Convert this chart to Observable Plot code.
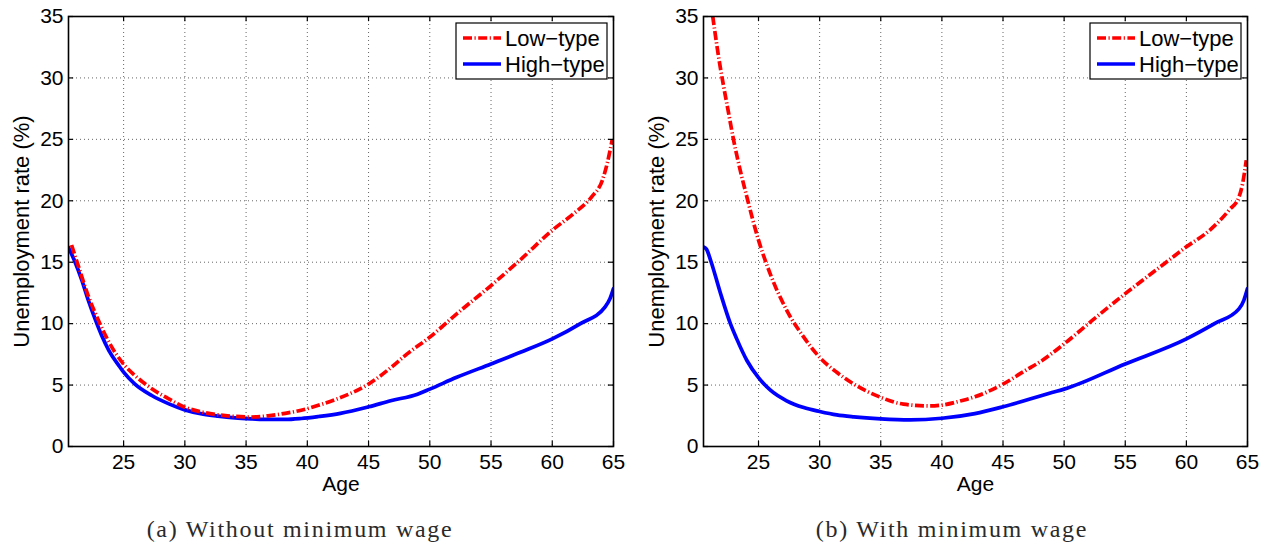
<!DOCTYPE html>
<html>
<head>
<meta charset="utf-8">
<script src="https://cdn.jsdelivr.net/npm/d3@7"></script>
<script src="https://cdn.jsdelivr.net/npm/@observablehq/plot@0.6"></script>
<style>
  html, body { margin: 0; padding: 0; background: #fff; }
  #wrap { position: relative; width: 1272px; height: 550px; overflow: hidden; }
  #row { display: flex; flex-direction: row; }
  .cap { position: absolute; top: 516px; font-family: "Liberation Serif", "DejaVu Serif", serif; font-size: 24px; letter-spacing: 1.7px; color: #2a2a2a; white-space: nowrap; transform: translateX(-50%); }
</style>
</head>
<body>
<div id="wrap">
  <div id="row"></div>
  <div class="cap" id="capA" style="left:300px"></div>
  <div class="cap" id="capB" style="left:952px"></div>
</div>
<script>
// ---------- data ----------
const xTicks = [25, 30, 35, 40, 45, 50, 55, 60, 65];
const yTicks = [0, 5, 10, 15, 20, 25, 30, 35];
const seriesNames = ["Low\u2212type", "High\u2212type"];
const captions = ["(a) Without minimum wage", "(b) With minimum wage"];
const yLabel = "Unemployment rate (%)";
const xLabel = "Age";

// Panel (a): without minimum wage
const aLowAge = [20.75, 21.3, 22.1, 22.95, 23.8, 25, 25.9, 27.3, 28.65, 30, 31.4, 32.7, 34.1, 35.45, 36.8, 38.2, 39.5, 40.9, 42.5, 45, 46.8, 48.1, 50, 52.2, 55, 57.4, 60, 61.8, 63.2, 64.1, 64.5, 64.9];
const aLow    = [16.4, 14.7, 12.3, 10.25, 8.5, 6.7, 5.8, 4.7, 3.9, 3.2, 2.8, 2.58, 2.45, 2.4, 2.5, 2.7, 2.95, 3.35, 3.9, 5.08, 6.4, 7.5, 8.9, 10.8, 13.1, 15.2, 17.6, 19.0, 20.3, 21.7, 23.1, 25.0];
const aHighAge = [20.5, 21, 21.6, 22.1, 22.7, 23.2, 23.8, 24.6, 25, 25.9, 27.3, 28.7, 30, 31.4, 32.7, 34.1, 35.5, 36.8, 38.2, 39.5, 40.9, 42.7, 45, 46.8, 49, 50, 52.2, 55, 57.4, 60, 62.3, 64.3, 64.7, 65];
const aHigh    = [16.2, 15.1, 13.5, 11.95, 10.3, 9.05, 7.8, 6.6, 6.05, 5.1, 4.15, 3.47, 2.98, 2.65, 2.47, 2.33, 2.25, 2.2, 2.2, 2.28, 2.44, 2.7, 3.23, 3.72, 4.26, 4.67, 5.63, 6.72, 7.67, 8.76, 10.0, 11.35, 12.0, 12.85];

// Panel (b): with minimum wage
const bLowAge = [21.25, 21.85, 22.15, 22.55, 22.95, 23.5, 24.05, 25, 25.95, 27.3, 28.7, 30, 31.4, 32.8, 35, 36.85, 39, 40, 41.75, 42.7, 45, 46.8, 48.2, 50, 52.3, 55, 57.5, 60, 61.9, 63.5, 64.3, 64.6, 64.9];
const bLow    = [35.05, 31.0, 29.3, 27.15, 25.0, 22.5, 20.3, 16.8, 14.07, 11.1, 8.9, 7.26, 6.04, 5.08, 4.0, 3.45, 3.3, 3.37, 3.77, 4.05, 5.08, 6.17, 7.0, 8.35, 10.26, 12.44, 14.35, 16.25, 17.6, 19.25, 20.3, 21.4, 23.3];
const bHighAge = [20.5, 20.75, 21.1, 21.85, 22.7, 23.2, 24.05, 25, 25.95, 27.3, 28.7, 30, 31.4, 32.8, 35, 37.4, 40, 42.7, 45, 49, 50, 55, 60, 62.3, 64.3, 64.7, 65];
const bHigh    = [16.25, 16.05, 15.1, 12.6, 10.0, 8.8, 7.0, 5.6, 4.6, 3.72, 3.17, 2.85, 2.57, 2.41, 2.25, 2.17, 2.3, 2.68, 3.23, 4.4, 4.67, 6.72, 8.76, 10.0, 11.2, 11.9, 12.85];

// ---------- drawing ----------
const xDomain = [20.5, 65];
const yDomain = [0, 35];
const LOW_COLOR = "#ff0000", HIGH_COLOR = "#0000ff";
const LOW_DASH = "9,2.5,1.2,2.5";
const LW = 3.7;
const FONT = "Liberation Sans, Arial, Helvetica, sans-serif";

function toRows(ages, vals) { return ages.map((a, i) => ({age: a, v: vals[i]})); }

function panel(lowAge, low, highAge, high, marginLeft, marginRight) {
  const W = 636, H = 496, mT = 16, mB = 50;
  const tx = 0.42, ty = 0.42; // inward tick length in data units (~5px)
  const p = Plot.plot({
    width: W, height: H,
    marginTop: mT, marginBottom: mB, marginLeft, marginRight,
    style: {fontFamily: FONT, fontSize: "21px", color: "#000", background: "#fff", overflow: "visible"},
    x: {domain: xDomain},
    y: {domain: yDomain},
    marks: [
      Plot.gridX(xTicks, {stroke: "#666", strokeOpacity: 1, strokeWidth: 1, strokeDasharray: "1,3"}),
      Plot.gridY(yTicks, {stroke: "#666", strokeOpacity: 1, strokeWidth: 1, strokeDasharray: "1,3"}),
      Plot.line(toRows(highAge, high), {x: "age", y: "v", stroke: HIGH_COLOR, strokeWidth: LW, curve: "monotone-x", clip: true}),
      Plot.line(toRows(lowAge, low), {x: "age", y: "v", stroke: LOW_COLOR, strokeWidth: LW, strokeDasharray: LOW_DASH, strokeLinecap: "butt", curve: "monotone-x", clip: true}),
      // inward tick marks on all four sides
      Plot.ruleX(xTicks, {x: d => d, y1: yDomain[0], y2: yDomain[0] + ty, stroke: "#000", strokeWidth: 1.2}),
      Plot.ruleX(xTicks, {x: d => d, y1: yDomain[1], y2: yDomain[1] - ty, stroke: "#000", strokeWidth: 1.2}),
      Plot.ruleY(yTicks, {y: d => d, x1: xDomain[0], x2: xDomain[0] + tx, stroke: "#000", strokeWidth: 1.2}),
      Plot.ruleY(yTicks, {y: d => d, x1: xDomain[1], x2: xDomain[1] - tx, stroke: "#000", strokeWidth: 1.2}),
      Plot.frame({stroke: "#000", strokeWidth: 1.6}),
      Plot.axisX(xTicks, {tickSize: 0, tickPadding: 8, label: null, fontSize: 21}),
      Plot.axisX({tickSize: 0, ticks: [], label: xLabel, labelAnchor: "center", labelArrow: "none", labelOffset: 44, fontSize: 21}),
      Plot.axisY(yTicks, {tickSize: 0, tickPadding: 5, label: null, fontSize: 21}),
      Plot.axisY({tickSize: 0, ticks: [], label: yLabel, labelAnchor: "center", labelArrow: "none", labelOffset: 55, fontSize: 22})
    ]
  });
  // legend box (top-right inside the axes)
  const svg = d3.select(p);
  const right = W - marginRight - 6;
  const bw = 151, bh = 56;
  const g = svg.append("g").attr("transform", `translate(${right - bw},${mT + 7})`);
  g.append("rect").attr("width", bw).attr("height", bh).attr("fill", "#fff").attr("stroke", "#000").attr("stroke-width", 1.2);
  const items = [
    {name: seriesNames[0], color: LOW_COLOR, dash: LOW_DASH},
    {name: seriesNames[1], color: HIGH_COLOR, dash: null}
  ];
  items.forEach((it, i) => {
    const cy = 15 + i * 26;
    g.append("line").attr("x1", 7).attr("x2", 45).attr("y1", cy).attr("y2", cy)
      .attr("stroke", it.color).attr("stroke-width", LW).attr("stroke-dasharray", it.dash);
    g.append("text").attr("x", 49).attr("y", cy).attr("dy", "0.36em").attr("text-anchor", "start")
      .attr("font-family", FONT).attr("font-size", 22).attr("fill", "#000").text(it.name);
  });
  return p;
}

const row = document.getElementById("row");
row.appendChild(panel(aLowAge, aLow, aHighAge, aHigh, 68, 23));
row.appendChild(panel(bLowAge, bLow, bHighAge, bHigh, 67, 25));
document.getElementById("capA").textContent = captions[0];
document.getElementById("capB").textContent = captions[1];
</script>
</body>
</html>
